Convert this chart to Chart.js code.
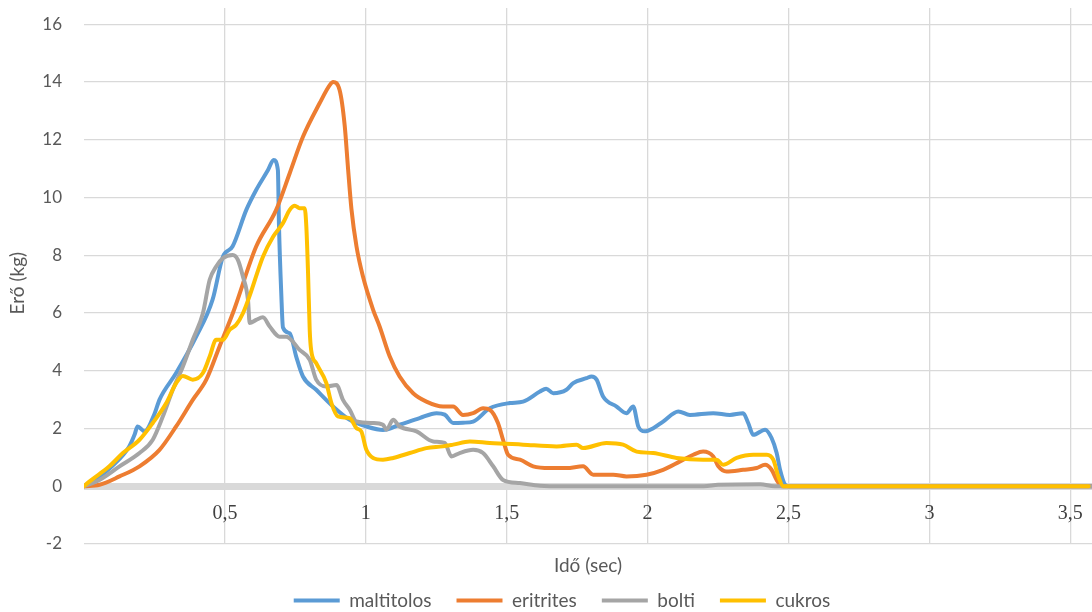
<!DOCTYPE html>
<html>
<head>
<meta charset="utf-8">
<script src="https://cdn.jsdelivr.net/npm/chart.js@4/dist/chart.umd.min.js"></script>
<style>
  html, body { margin: 0; padding: 0; background: #ffffff; }
  #wrap { width: 1092px; height: 612px; }
</style>
</head>
<body>
<div id="wrap"><canvas id="chart" width="1092" height="612"></canvas></div>
<script>
// Measured force (kg) over time (s) for four samples
const seriesNames = ['maltitolos', 'eritrites', 'bolti', 'cukros'];
const seriesColors = ['#5b9bd5', '#ed7d31', '#a5a5a5', '#ffc000'];

const maltitolosT = [0, 0.05, 0.10, 0.16, 0.18, 0.19, 0.215, 0.25, 0.268, 0.327, 0.398, 0.456, 0.493, 0.527, 0.576, 0.611, 0.653, 0.673, 0.688, 0.692, 0.700, 0.706, 0.73, 0.753, 0.777, 0.824, 0.884, 0.943, 1.002, 1.061, 1.12, 1.191, 1.251, 1.28, 1.31, 1.345, 1.381, 1.44, 1.511, 1.558, 1.618, 1.64, 1.665, 1.712, 1.736, 1.783, 1.801, 1.819, 1.842, 1.89, 1.925, 1.949, 1.967, 1.99, 2.02, 2.055, 2.109, 2.15, 2.233, 2.292, 2.339, 2.357, 2.375, 2.417, 2.44, 2.458, 2.47, 2.488, 2.5, 3.575];
const maltitolosF = [0, 0.3, 0.7, 1.37, 1.8, 2.07, 1.9, 2.5, 3.0, 3.92, 5.18, 6.45, 7.95, 8.3, 9.57, 10.26, 10.95, 11.3, 10.95, 8.99, 6.68, 5.5, 5.3, 4.49, 3.8, 3.34, 2.76, 2.3, 2.07, 1.95, 2.13, 2.36, 2.53, 2.48, 2.19, 2.2, 2.24, 2.7, 2.88, 2.93, 3.28, 3.38, 3.22, 3.34, 3.57, 3.74, 3.8, 3.69, 3.11, 2.76, 2.53, 2.76, 2.07, 1.9, 2.01, 2.24, 2.59, 2.47, 2.53, 2.47, 2.53, 2.19, 1.78, 1.96, 1.67, 1.15, 0.57, 0.05, 0, 0];

const eritritesT = [0, 0.055, 0.126, 0.197, 0.268, 0.327, 0.386, 0.434, 0.481, 0.528, 0.611, 0.682, 0.73, 0.777, 0.836, 0.872, 0.884, 0.907, 0.925, 0.937, 0.949, 0.967, 0.99, 1.026, 1.049, 1.085, 1.12, 1.168, 1.215, 1.274, 1.31, 1.345, 1.381, 1.416, 1.44, 1.469, 1.487, 1.505, 1.547, 1.594, 1.653, 1.712, 1.771, 1.807, 1.878, 1.925, 1.996, 2.055, 2.115, 2.162, 2.197, 2.233, 2.251, 2.28, 2.339, 2.387, 2.417, 2.44, 2.458, 2.476, 3.575];
const eritritesF = [0, 0.05, 0.34, 0.69, 1.26, 2.07, 2.99, 3.69, 4.84, 5.99, 8.3, 9.57, 10.84, 12.1, 13.26, 13.89, 14.0, 13.72, 12.5, 11.0, 9.6, 8.3, 7.26, 6.11, 5.53, 4.49, 3.8, 3.22, 2.93, 2.76, 2.76, 2.47, 2.53, 2.7, 2.65, 2.19, 1.61, 1.09, 0.92, 0.69, 0.63, 0.63, 0.69, 0.4, 0.4, 0.34, 0.4, 0.57, 0.86, 1.09, 1.2, 1.03, 0.69, 0.51, 0.57, 0.63, 0.74, 0.57, 0.22, 0, 0];

const boltiT = [0, 0.055, 0.126, 0.197, 0.244, 0.28, 0.315, 0.351, 0.386, 0.422, 0.446, 0.469, 0.493, 0.528, 0.546, 0.564, 0.582, 0.588, 0.611, 0.635, 0.659, 0.694, 0.718, 0.765, 0.801, 0.824, 0.86, 0.896, 0.919, 0.943, 0.967, 1.026, 1.061, 1.073, 1.097, 1.12, 1.18, 1.239, 1.28, 1.304, 1.333, 1.381, 1.416, 1.452, 1.487, 1.547, 1.618, 1.7, 2.2, 2.25, 2.4, 2.45, 3.575];
const boltiF = [0, 0.22, 0.69, 1.15, 1.61, 2.42, 3.34, 4.15, 5.07, 5.99, 7.15, 7.61, 7.9, 8.01, 7.84, 7.26, 6.45, 5.65, 5.76, 5.85, 5.53, 5.18, 5.18, 4.72, 4.38, 3.69, 3.45, 3.51, 2.99, 2.65, 2.24, 2.19, 2.13, 1.96, 2.3, 2.07, 1.9, 1.55, 1.5, 1.03, 1.15, 1.26, 1.15, 0.69, 0.22, 0.11, 0.02, 0, 0, 0.05, 0.07, 0, 0];

const cukrosT = [0, 0.02, 0.09, 0.138, 0.197, 0.244, 0.292, 0.327, 0.351, 0.386, 0.422, 0.446, 0.469, 0.493, 0.517, 0.54, 0.564, 0.588, 0.635, 0.671, 0.706, 0.73, 0.748, 0.765, 0.783, 0.789, 0.795, 0.801, 0.806, 0.824, 0.86, 0.878, 0.901, 0.943, 0.967, 0.984, 1.002, 1.026, 1.061, 1.097, 1.156, 1.215, 1.274, 1.31, 1.369, 1.44, 1.558, 1.677, 1.748, 1.771, 1.854, 1.913, 1.961, 2.02, 2.103, 2.197, 2.245, 2.268, 2.316, 2.375, 2.423, 2.446, 2.464, 2.482, 3.565];
const cukrosF = [0, 0.17, 0.69, 1.15, 1.61, 2.19, 2.88, 3.57, 3.82, 3.69, 3.92, 4.49, 5.07, 5.07, 5.42, 5.59, 5.99, 6.6, 7.95, 8.64, 9.11, 9.57, 9.71, 9.63, 9.63, 8.99, 7.4, 5.4, 4.72, 4.26, 3.57, 2.88, 2.42, 2.36, 2.01, 1.9, 1.26, 0.98, 0.92, 0.98, 1.15, 1.32, 1.38, 1.44, 1.55, 1.5, 1.44, 1.38, 1.44, 1.32, 1.5, 1.44, 1.2, 1.15, 0.98, 0.92, 0.92, 0.74, 0.98, 1.09, 1.09, 0.92, 0.34, 0, 0];

// Axis ticks
const xTickValues = [0.5, 1, 1.5, 2, 2.5, 3, 3.5];
const xTickLabels = ['0,5', '1', '1,5', '2', '2,5', '3', '3,5'];
const yTickValues = [-2, 0, 2, 4, 6, 8, 10, 12, 14, 16];
const yTickLabels = ['-2', '0', '2', '4', '6', '8', '10', '12', '14', '16'];

const seriesTimes = [maltitolosT, eritritesT, boltiT, cukrosT];
const seriesForces = [maltitolosF, eritritesF, boltiF, cukrosF];

const datasets = seriesNames.map((name, i) => ({
  label: name,
  data: seriesTimes[i].map((t, k) => ({ x: t, y: seriesForces[i][k] })),
  borderColor: seriesColors[i],
  backgroundColor: seriesColors[i],
  // later series are painted over earlier ones
  order: seriesNames.length - i
}));

const labelFont = { family: 'Lato', size: 19 };
const greyText = '#595959';

// nudge the legend row to the right of the canvas centre
const legendShift = {
  id: 'legendShift',
  afterLayout(chart) {
    if (chart.legend) {
      chart.legend.left += 16;
      chart.legend.right += 16;
    }
  }
};

new Chart(document.getElementById('chart'), {
  type: 'line',
  data: { datasets },
  plugins: [legendShift],
  options: {
    responsive: false,
    animation: false,
    devicePixelRatio: 1,
    layout: { padding: { top: 8, right: 0, left: 0, bottom: -8 } },
    elements: {
      point: { radius: 0, hoverRadius: 0 },
      line: { borderWidth: 4, cubicInterpolationMode: 'monotone', borderCapStyle: 'round', borderJoinStyle: 'round' }
    },
    plugins: {
      tooltip: { enabled: false },
      legend: {
        position: 'bottom',
        labels: {
          boxWidth: 46,
          boxHeight: 4,
          padding: 25,
          color: greyText,
          font: labelFont,
          generateLabels: (chart) => chart.data.datasets.map((ds, i) => ({
            text: ds.label,
            fillStyle: ds.borderColor,
            strokeStyle: ds.borderColor,
            lineWidth: 0,
            fontColor: greyText,
            hidden: false,
            datasetIndex: i
          }))
        }
      }
    },
    scales: {
      x: {
        type: 'linear',
        min: 0,
        max: 3.577,
        afterBuildTicks: (axis) => { axis.ticks = xTickValues.map(v => ({ value: v })); },
        afterFit: (axis) => { axis.height = 22; axis.paddingLeft = 0; axis.paddingRight = 0; },
        ticks: {
          autoSkip: false,
          maxRotation: 0,
          includeBounds: false,
          mirror: true,
          padding: 18,
          color: '#404040',
          font: { family: 'Liberation Serif', size: 20 },
          callback: (v, i) => xTickLabels[i]
        },
        grid: { color: '#d9d9d9', lineWidth: 1.3, drawTicks: false },
        border: { display: false },
        title: {
          display: true,
          text: 'Idő (sec)',
          color: greyText,
          font: labelFont,
          padding: { top: 0, bottom: -11 }
        }
      },
      y: {
        min: -2,
        max: 16.56,
        afterBuildTicks: (axis) => { axis.ticks = yTickValues.map(v => ({ value: v })); },
        afterFit: (axis) => { axis.width = 84; axis.paddingTop = 0; axis.paddingBottom = 0; },
        ticks: {
          includeBounds: false,
          padding: 22,
          color: greyText,
          font: { family: 'Lato', size: 17 },
          callback: (v, i) => yTickLabels[i]
        },
        grid: {
          drawTicks: false,
          color: '#d9d9d9',
          lineWidth: (ctx) => (ctx.tick && ctx.tick.value === 0 ? 7 : 1.3)
        },
        border: { display: false },
        title: {
          display: true,
          text: 'Erő (kg)\u2003',
          color: greyText,
          font: labelFont,
          padding: { top: 6, bottom: 0 }
        }
      }
    }
  }
});
</script>
</body>
</html>
